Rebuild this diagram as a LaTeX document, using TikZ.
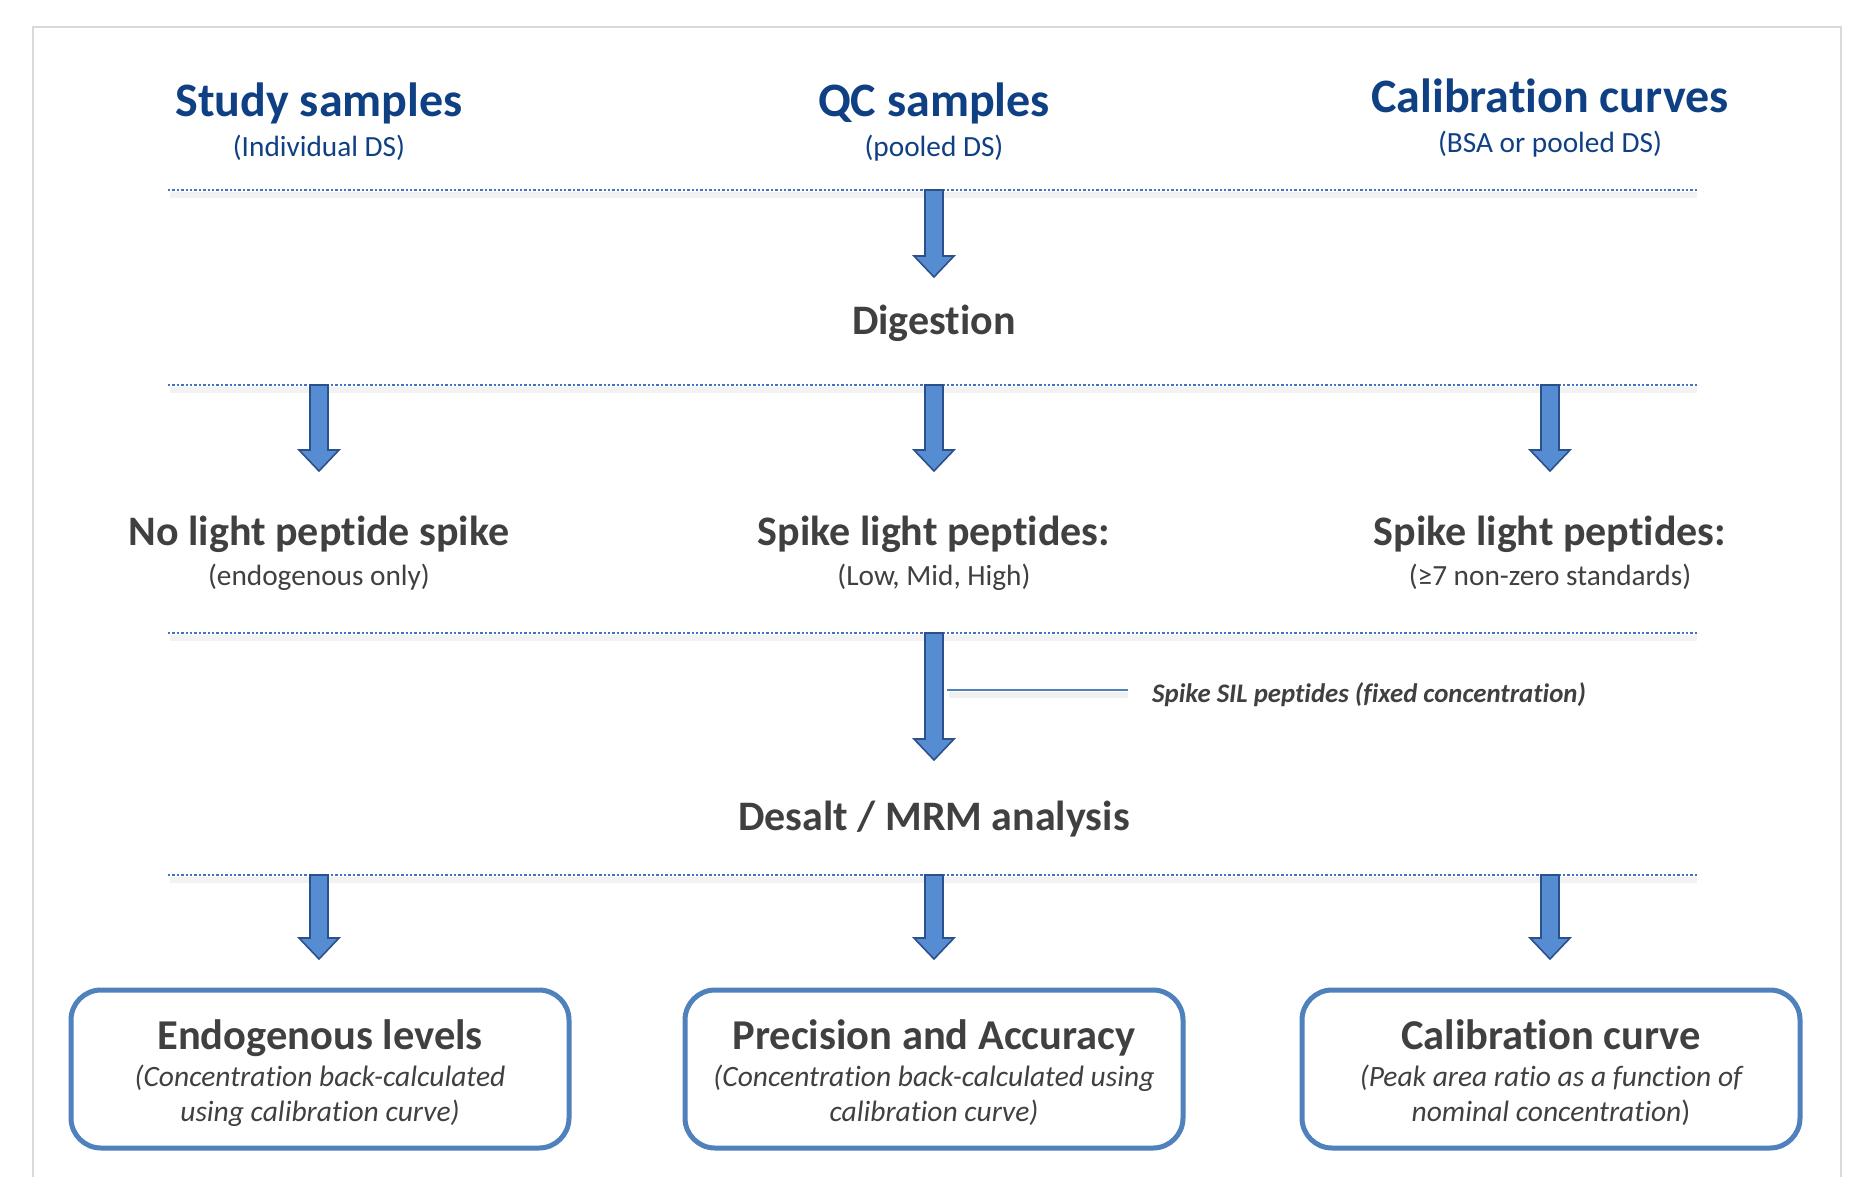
\documentclass[tikz,border=0pt]{standalone}
\usepackage{fontspec}
\setmainfont{Carlito}[Ligatures={NoCommon,NoRare,NoContextual}]
\usetikzlibrary{calc}
\definecolor{hdrblue}{RGB}{16,64,132}
\definecolor{txtgray}{RGB}{64,64,64}
\definecolor{dotblue}{RGB}{68,114,196}
\definecolor{arrfill}{RGB}{86,140,210}
\definecolor{arredge}{RGB}{44,80,140}
\definecolor{boxblue}{RGB}{79,129,189}
\definecolor{framegray}{RGB}{217,217,217}
\tikzset{
  txt/.style={inner sep=0pt, text height=0.72em, text depth=0.22em},
  hdr/.style={txt, font=\bfseries\fontsize{48}{56}\selectfont, text=hdrblue},
  hdrsub/.style={txt, font=\fontsize{29.3}{34}\selectfont, text=hdrblue},
  midtitle/.style={txt, font=\bfseries\fontsize{42}{50}\selectfont, text=txtgray},
  midsub/.style={txt, font=\fontsize{29.3}{34}\selectfont, text=txtgray},
  silnote/.style={txt, font=\bfseries\itshape\fontsize{26.8}{30}\selectfont, text=txtgray, anchor=west},
  boxtitle/.style={txt, font=\bfseries\fontsize{42.5}{50}\selectfont, text=txtgray},
  boxit/.style={txt, font=\itshape\fontsize{29.5}{34}\selectfont, text=txtgray},
  resultbox/.style={draw=boxblue, line width=5pt, rounded corners=30pt, fill=white,
    minimum width=498pt, minimum height=158pt, inner sep=0pt},
  sepline/.style={dotblue, line width=2.4pt, dash pattern=on 2.3pt off 2.1pt},
  sepshadow/.style={black, opacity=0.05, line width=6pt},
  blockarrow/.style={fill=arrfill, draw=arredge, line width=1.6pt, line join=miter},
  sidelink/.style={boxblue, line width=2.2pt},
}
\newcommand\blockarr[2]{%
  \path[blockarrow] let \p1=(#1), \p2=(#2) in
    (\x1-9pt,\y1) -- (\x1+9pt,\y1) -- (\x1+9pt,\y2+21pt) -- (\x1+20pt,\y2+21pt)
    -- (\x2,\y2) -- (\x1-20pt,\y2+21pt) -- (\x1-9pt,\y2+21pt) -- cycle;}
\begin{document}
\begin{tikzpicture}[x=1pt,y=-1pt]
\useasboundingbox (0,0) rectangle (1854,1176);
\fill[white] (0,0) rectangle (1854,1176);
% frame
\draw[framegray, line width=1.6pt] (33,1180) -- (33,27) -- (1841,27) -- (1841,1180);

% separator lines
\foreach \yy in {190,385,633,875}{
  \draw[sepshadow] (170,\yy+5) -- (1697,\yy+5);
  \draw[sepline] (168,\yy) -- (1697,\yy);
}

% headers
\node[hdr] (study) at (319,114) {Study samples};
\node[hdrsub] (studysub) at (319,154) {(Individual DS)};
\node[hdr] (qc) at (934,114) {QC samples};
\node[hdrsub] (qcsub) at (934,154) {(pooled DS)};
\node[hdr] (calib) at (1550,110) {Calibration curves};
\node[hdrsub] (calibsub) at (1550,150) {(BSA or pooled DS)};

% digestion
\coordinate (a1s) at (934,190);
\coordinate (a1e) at (934,277);
\blockarr{a1s}{a1e}
\node[midtitle] (dig) at (934,332) {Digestion};

% row 2 arrows
\coordinate (a2s) at (319,385); \coordinate (a2e) at (319,471);
\coordinate (a3s) at (934,385); \coordinate (a3e) at (934,471);
\coordinate (a4s) at (1550,385); \coordinate (a4e) at (1550,471);
\blockarr{a2s}{a2e}
\blockarr{a3s}{a3e}
\blockarr{a4s}{a4e}

\node[midtitle] (nolight) at (319,543) {No light peptide spike};
\node[midsub] (nolightsub) at (319,583) {(endogenous only)};
\node[midtitle] (spikeqc) at (934,543) {Spike light peptides:};
\node[midsub] (spikeqcsub) at (934,583) {(Low, Mid, High)};
\node[midtitle] (spikecal) at (1550,543) {Spike light peptides:};
\node[midsub] (spikecalsub) at (1550,583) {(≥7 non-zero standards)};

% SIL spike
\coordinate (a5s) at (934,633); \coordinate (a5e) at (934,760);
\blockarr{a5s}{a5e}
\node[silnote] (sil) at (1152,700) {Spike SIL peptides (fixed concentration)};
\coordinate (silend) at (1128,690);
\coordinate (silstart) at (947,690);
\draw[black, opacity=0.06, line width=6pt] ($(silstart)+(2,5)$) -- ($(silend)+(0,5)$);
\draw[sidelink] (silstart) -- (silend);

\node[midtitle] (desalt) at (934,828) {Desalt / MRM analysis};

% row 4 arrows
\coordinate (a6s) at (319,875); \coordinate (a6e) at (319,959);
\coordinate (a7s) at (934,875); \coordinate (a7e) at (934,959);
\coordinate (a8s) at (1550,875); \coordinate (a8e) at (1550,959);
\blockarr{a6s}{a6e}
\blockarr{a7s}{a7e}
\blockarr{a8s}{a8e}

% result boxes
\node[resultbox] (b1) at (320,1069) {};
\node[resultbox] (b2) at (934,1069) {};
\node[resultbox] (b3) at (1551,1069) {};

\node[boxtitle] (b1t) at (320,1047) {Endogenous levels};
\node[boxit] (b1l1) at (320,1084) {(Concentration back-calculated};
\node[boxit] (b1l2) at (320,1119) {using calibration curve)};

\node[boxtitle] (b2t) at (934,1047) {Precision and Accuracy};
\node[boxit] (b2l1) at (934,1084) {(Concentration back-calculated using};
\node[boxit] (b2l2) at (934,1119) {calibration curve)};

\node[boxtitle] (b3t) at (1551,1047) {Calibration curve};
\node[boxit] (b3l1) at (1551,1084) {(Peak area ratio as a function of};
\node[boxit] (b3l2) at (1551,1119) {nominal concentration\upshape)};
\end{tikzpicture}
\end{document}
